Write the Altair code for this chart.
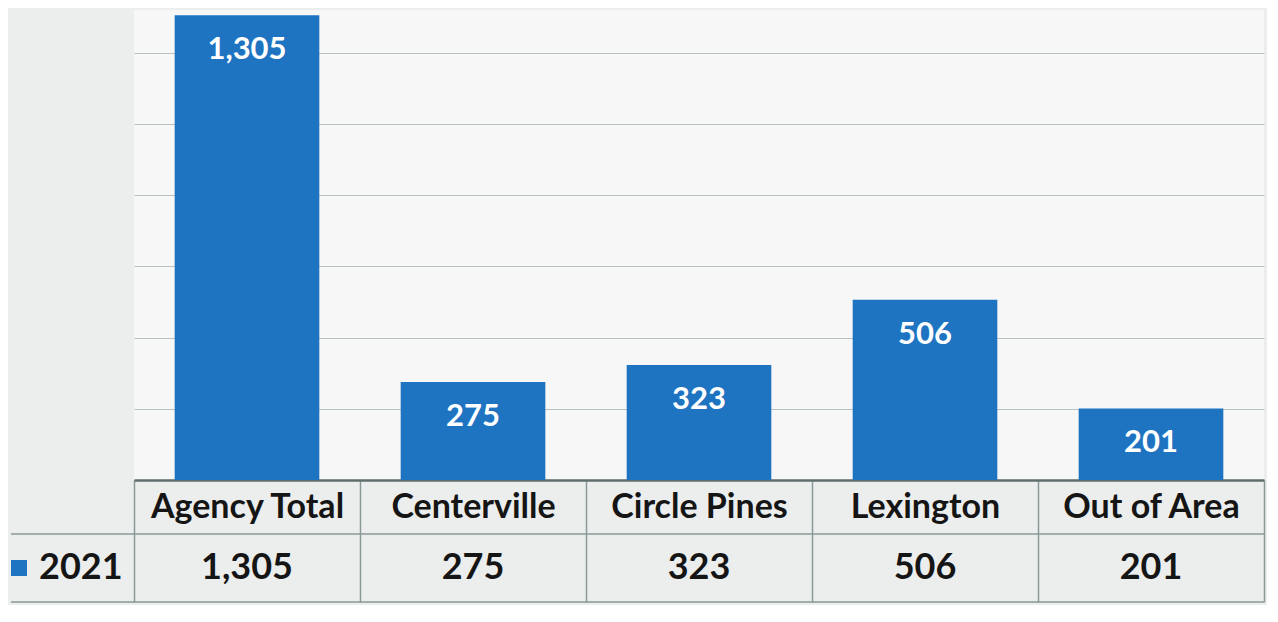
import altair as alt
import pandas as pd

# ---- data ----
categories = ["Agency Total", "Centerville", "Circle Pines", "Lexington", "Out of Area"]
values_2021 = [1305, 275, 323, 506, 201]
series_name = ["2021"]
grid_values = [0, 200, 400, 600, 800, 1000, 1200]

df = pd.DataFrame({"category": categories, "value": values_2021})
legend_df = pd.DataFrame({"series": series_name})

# ---- layout / style ----
W = 1130
H = 470
HEADER = 54
ROW = 68
BLUE = "#1f74c2"
BORDER = "#8a9898"
FONT = "Lato"
TEXT = "#151515"

x_enc = alt.X(
    "category:N",
    sort=categories,
    title=None,
    scale=alt.Scale(paddingInner=0, paddingOuter=0),
    axis=alt.Axis(
        orient="bottom",
        tickBand="extent",
        tickSize=HEADER + ROW,
        tickColor=BORDER,
        tickWidth=1.5,
        domainColor="#5f6d6d",
        domainWidth=2.5,
        labelFont=FONT,
        labelFontSize=34,
        labelFontWeight="bold",
        labelColor=TEXT,
        labelAngle=0,
        labelAlign="center",
        labelBaseline="middle",
        labelLimit=400,
        labelPadding=-(HEADER + ROW) + HEADER / 2,
    ),
)

y_enc = alt.Y(
    "value:Q",
    title=None,
    scale=alt.Scale(domain=[0, 1320], nice=False),
    axis=alt.Axis(
        labels=False, ticks=False, domain=False, grid=True,
        values=grid_values, gridColor="#b9c2c2", gridWidth=1.2,
    ),
)

base = alt.Chart(df)

bars = base.mark_bar(color=BLUE, width=alt.RelativeBandSize(0.64)).encode(x=x_enc, y=y_enc)

bar_labels = base.mark_text(
    color="white", font=FONT, fontSize=31, fontWeight="bold",
    baseline="middle", dy=35,
).encode(x=alt.X("category:N", sort=categories), y="value:Q",
         text=alt.Text("value:Q", format=","))

table_values = base.mark_text(
    color=TEXT, font=FONT, fontSize=36, fontWeight="bold", baseline="middle",
).encode(x=alt.X("category:N", sort=categories),
         y=alt.value(H + HEADER + ROW / 2),
         text=alt.Text("value:Q", format=","))

leg = alt.Chart(legend_df)
row_line = leg.mark_rule(color=BORDER, strokeWidth=1.5).encode(
    x=alt.value(-123), x2=alt.value(W), y=alt.value(H + HEADER))
bottom_line = leg.mark_rule(color=BORDER, strokeWidth=1.5).encode(
    x=alt.value(-123), x2=alt.value(W), y=alt.value(H + HEADER + ROW))
leg_square = leg.mark_square(color=BLUE, filled=True, size=256, opacity=1).encode(
    x=alt.value(-115), y=alt.value(H + HEADER + ROW / 2))
leg_text = leg.mark_text(
    align="left", baseline="middle", font=FONT, fontSize=36, fontWeight="bold", color=TEXT,
).encode(x=alt.value(-95), y=alt.value(H + HEADER + ROW / 2), text="series:N")

chart = alt.layer(
    bars, bar_labels, table_values, row_line, bottom_line, leg_square, leg_text
).properties(
    width=W, height=H,
    padding={"left": 2, "right": 2, "top": 2, "bottom": 2},
    background="#eceeed",
).configure_view(fill="#f6f7f6", stroke=None)

chart.save("out.html", embed_options={"renderer": "svg", "actions": False})
